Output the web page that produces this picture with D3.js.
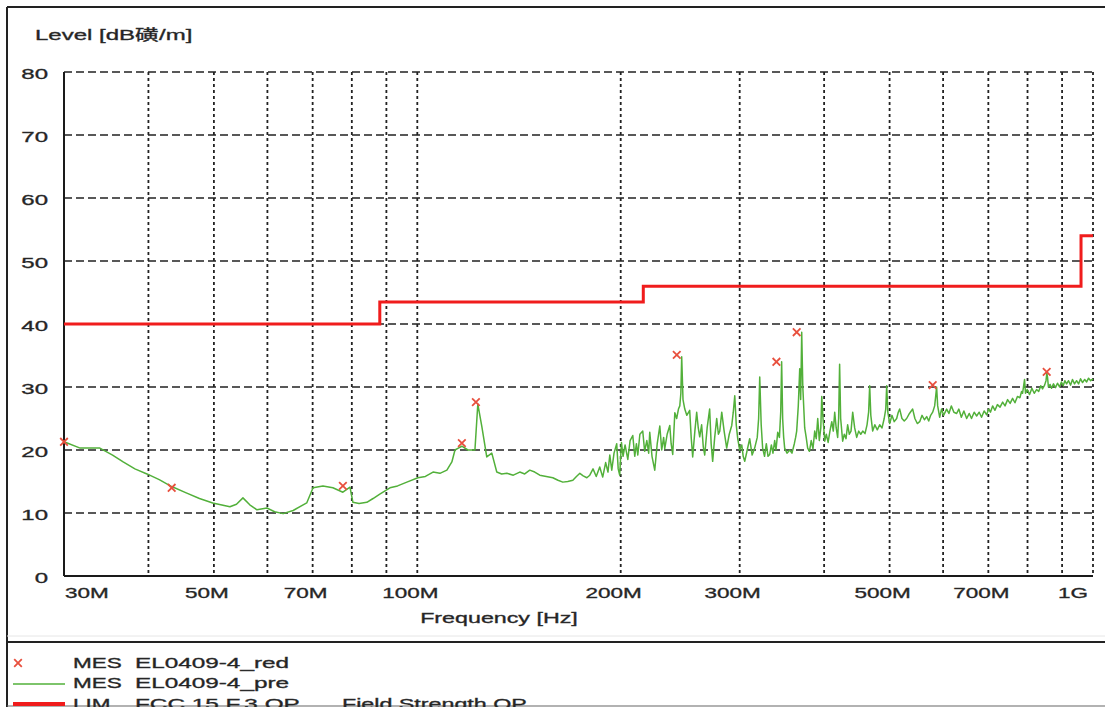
<!DOCTYPE html>
<html><head><meta charset="utf-8">
<script src="https://cdn.jsdelivr.net/npm/d3@7"></script>
<style>html,body{margin:0;padding:0;background:#fff;overflow:hidden}
text{font-family:"Liberation Sans",Arial,"Noto Sans CJK SC",sans-serif;fill:#222;stroke:#333;stroke-width:0.35px}</style>
</head><body>
<svg id="chart" width="1105" height="707"></svg>
<script>
// ---------- data ----------
const yTicks = [0, 10, 20, 30, 40, 50, 60, 70, 80];
const xGridMHz = [40, 50, 60, 70, 80, 90, 100, 200, 300, 400, 500, 600, 700, 800, 900, 1000];
const xTickMHz = [30, 50, 70, 100, 200, 300, 500, 700, 1000];
const xTickLabels = ["30M", "50M", "70M", "100M", "200M", "300M", "500M", "700M", "1G"];

const limitFreqMHz = [30, 88, 88, 216, 216, 960, 960, 1000];
const limitLevel   = [40, 40, 43.5, 43.5, 46, 46, 54, 54];

const peakFreqMHz = [30.0, 43.3, 77.6, 116.4, 122.1, 242.1, 340.0, 364.3, 579.1, 854.0];
const peakLevel   = [21.3, 14.0, 14.3, 21.1, 27.6, 35.1, 34.0, 38.7, 30.3, 32.4];

const traceFreqMHz = [
 30.0,31.7,33.9,35.4,36.7,38.2,39.8,41.5,43.3,45.5,47.6,49.8,52.8,54.0,55.2,56.5,57.9,59.9,61.5,63.3,65.5,68.6,70.1,72.5,75.0,77.6,79.5,80.3,82.0,84.2,
 86.0,88.0,91.1,93.5,96.5,100.2,102.8,105.5,108.0,110.6,112.5,113.7,115.0,116.4,118.8,121.7,122.9,124.6,126.7,128.9,131.1,133.3,135.7,138.7,141.8,144.2,146.7,149.2,151.8,155.2,
 158.7,161.5,164.2,167.0,169.9,172.0,174.0,176.0,178.2,180.0,182.0,184.0,186.2,188.1,190.0,191.5,192.7,194.0,195.5,197.3,198.3,199.3,200.5,201.6,203.0,204.9,206.5,208.4,209.8,211.0,
 212.0,213.5,215.6,217.0,218.6,220.0,220.8,222.5,224.6,226.5,228.5,230.0,231.5,232.4,234.3,236.4,237.5,238.8,240.5,242.0,243.5,244.6,245.5,246.2,247.3,248.8,250.5,253.0,254.3,255.6,
 257.5,259.1,260.5,261.8,263.5,265.0,266.3,268.5,270.8,272.2,273.6,275.5,277.4,279.0,280.3,282.2,284.5,287.0,289.5,292.0,293.5,295.0,296.5,298.0,300.0,302.1,303.6,305.2,307.8,310.4,
 313.0,315.7,318.5,320.0,321.2,322.8,324.4,326.5,328.5,330.4,332.3,334.2,336.0,338.0,339.5,341.5,343.5,345.0,346.1,347.3,348.5,349.7,352.5,355.8,358.5,361.4,363.0,364.3,366.3,368.1,
 369.3,370.6,372.0,374.4,376.3,378.2,380.5,382.8,385.1,387.4,389.4,391.4,393.5,395.5,396.8,398.5,400.9,403.0,405.5,408.0,410.6,412.7,414.7,416.8,418.9,420.3,421.7,423.2,426.1,428.5,
 431.0,433.4,435.9,438.4,440.9,443.9,447.0,450.0,453.2,456.3,459.8,463.0,465.5,467.2,469.0,472.0,475.5,479.5,483.4,487.3,490.9,493.5,495.1,497.0,500.2,504.0,508.0,512.2,515.0,517.5,
 521.5,525.6,529.9,535.0,540.9,545.0,549.5,554.0,558.5,563.0,567.4,571.3,575.1,579.1,583.0,585.0,586.9,589.0,593.0,597.0,601.0,607.3,612.0,617.0,622.5,628.3,633.0,638.5,644.0,650.2,
 656.0,661.0,667.0,672.7,678.5,684.0,690.0,696.0,701.0,705.0,710.3,716.0,722.0,728.5,735.0,741.0,747.5,754.0,760.3,766.5,773.0,779.5,784.0,786.6,789.0,792.0,794.5,799.0,805.6,812.0,
 818.5,825.0,831.0,837.0,842.0,848.0,852.0,854.5,856.6,859.0,864.0,868.3,874.0,880.0,886.0,892.3,898.0,903.5,908.5,913.9,920.0,926.5,932.5,939.0,945.6,952.0,958.5,965.0,972.0,978.6,
 985.0,992.0,1000];
const traceLevel = [
 21.3,20.3,20.3,19.2,18.1,17.0,16.2,15.3,14.2,13.2,12.3,11.6,11.0,11.4,12.4,11.3,10.5,10.8,10.2,9.9,10.4,11.6,14.0,14.3,14.0,13.3,14.1,11.7,11.5,11.7,
 12.3,13.0,14.0,14.3,14.9,15.6,15.8,16.5,16.3,16.8,18.1,20.0,20.3,20.6,20.0,20.0,27.3,23.7,18.9,19.5,16.5,16.2,16.3,16.0,16.5,16.2,16.8,16.5,16.0,15.8,
 15.6,15.2,14.9,15.0,15.2,15.8,16.3,15.9,15.6,16.0,17.0,15.8,17.3,15.7,18.0,16.5,19.2,16.8,19.5,21.0,17.0,16.0,21.2,19.0,20.8,18.5,21.5,22.3,19.0,21.0,
 19.2,22.5,23.0,19.8,21.5,19.5,22.8,19.0,16.8,21.0,23.8,20.0,22.0,20.2,22.5,23.9,21.0,19.3,25.9,25.0,26.5,27.0,29.0,34.8,28.0,26.5,25.5,26.3,22.0,18.9,
 23.0,26.0,23.5,22.1,24.0,20.5,19.2,23.5,26.5,21.0,18.2,22.0,25.0,22.5,23.0,26.0,23.0,20.3,22.5,23.9,26.0,28.6,24.0,21.8,20.0,20.8,19.0,18.2,20.0,21.8,
 19.2,20.3,22.0,25.0,31.6,24.0,20.3,19.0,21.0,19.0,19.3,20.8,19.5,21.5,20.0,22.8,22.0,26.0,34.0,25.0,22.0,20.3,19.5,20.0,19.5,21.0,22.0,23.0,27.0,32.9,
 28.0,38.7,30.0,23.5,22.0,20.3,19.8,21.5,20.2,23.0,21.8,25.0,21.5,23.5,28.5,25.0,21.4,22.5,21.2,23.0,24.5,23.0,26.0,23.5,22.0,25.0,33.6,25.0,21.4,22.5,
 21.8,24.0,22.5,23.0,26.0,23.5,22.0,23.0,22.5,23.0,22.6,24.0,26.0,30.2,25.5,23.0,24.0,23.2,24.0,23.5,25.0,26.5,30.2,26.0,24.2,25.5,24.5,25.0,26.0,26.5,
 25.0,24.6,25.0,25.8,26.5,25.0,24.2,24.5,25.5,24.8,25.3,24.6,25.5,26.0,27.0,28.5,30.0,27.0,25.2,26.5,25.5,26.5,25.8,27.0,26.0,25.8,26.5,25.2,26.2,25.0,
 25.8,25.0,26.0,25.4,26.0,25.2,26.2,25.6,26.5,26.0,27.0,26.3,27.2,26.8,27.6,27.0,28.0,27.4,28.2,27.5,28.5,28.3,29.3,29.0,30.0,31.2,29.0,29.6,28.8,29.8,
 29.0,29.6,29.3,30.2,29.7,30.3,31.0,32.2,31.5,30.0,30.4,29.8,30.5,29.9,30.6,30.0,30.8,30.2,31.0,30.5,31.0,30.3,31.2,30.5,31.0,30.5,31.3,30.7,31.2,30.8,
 31.4,31.0,31.3];

const legendNames = ["MES", "MES", "LIM"];
const legendSeries = ["EL0409-4_red", "EL0409-4_pre", "FCC 15.F.3 QP"];
const yTitle = "Level [dB磺/m]";
const xTitle = "Frequency [Hz]";

// ---------- drawing ----------
const svg = d3.select("#chart");
const x = d3.scaleLog().domain([30, 1000]).range([64, 1093]);
const y = d3.scaleLinear().domain([0, 80]).range([576, 72]);

function stretch(sel, k) {
  sel.each(function () {
    const w = this.getComputedTextLength();
    d3.select(this).attr("textLength", w * k).attr("lengthAdjust", "spacingAndGlyphs");
  });
  return sel;
}

// outer frame
svg.append("line").attr("x1", 7).attr("x2", 7).attr("y1", 7).attr("y2", 707).attr("stroke", "#222").attr("stroke-width", 2);
svg.append("line").attr("x1", 7).attr("x2", 1105).attr("y1", 7).attr("y2", 7).attr("stroke", "#222").attr("stroke-width", 2);
svg.append("line").attr("x1", 7).attr("x2", 1105).attr("y1", 636).attr("y2", 636).attr("stroke", "#e6e6e6").attr("stroke-width", 1);
svg.append("line").attr("x1", 7).attr("x2", 1105).attr("y1", 642).attr("y2", 642).attr("stroke", "#222").attr("stroke-width", 2);
svg.append("line").attr("x1", 7).attr("x2", 1105).attr("y1", 706).attr("y2", 706).attr("stroke", "#666").attr("stroke-width", 1.2);

// grid
const grid = svg.append("g");
grid.selectAll("line.h").data(yTicks.filter(d => d > 0)).join("line")
  .attr("x1", x(30)).attr("x2", x(1000)).attr("y1", d => y(d)).attr("y2", d => y(d))
  .attr("stroke", "#222").attr("stroke-width", 1.4).attr("stroke-dasharray", "8,4");
grid.selectAll("line.v").data(xGridMHz).join("line")
  .attr("x1", d => x(d)).attr("x2", d => x(d)).attr("y1", y(80)).attr("y2", y(0))
  .attr("stroke", "#222").attr("stroke-width", 1.8).attr("stroke-dasharray", "3,3");

// axes lines
svg.append("line").attr("x1", x(30)).attr("x2", x(30)).attr("y1", y(80)).attr("y2", y(0)).attr("stroke", "#1a1a1a").attr("stroke-width", 2);
svg.append("line").attr("x1", x(30)).attr("x2", x(1000)).attr("y1", y(0)).attr("y2", y(0)).attr("stroke", "#1a1a1a").attr("stroke-width", 2);

// y tick labels
stretch(svg.append("g").selectAll("text").data(yTicks).join("text")
  .attr("x", 48).attr("y", d => y(d) + 6.5).attr("text-anchor", "end")
  .attr("font-size", 15).text(d => d), 1.6);

// x tick labels
stretch(svg.append("g").selectAll("text").data(xTickMHz).join("text")
  .attr("x", (d, i) => i === 0 ? x(d) + 1 : (i === xTickMHz.length - 1 ? x(d) - 5 : x(d) - 7))
  .attr("y", 598)
  .attr("text-anchor", (d, i) => i === 0 ? "start" : (i === xTickMHz.length - 1 ? "end" : "middle"))
  .attr("font-size", 15).text((d, i) => xTickLabels[i]), 1.5);

// titles
stretch(svg.append("text").attr("x", 35).attr("y", 40).attr("font-size", 15).text(yTitle), 1.6);
stretch(svg.append("text").attr("x", 499).attr("y", 623).attr("text-anchor", "middle").attr("font-size", 15).text(xTitle), 1.55);

// limit line
const limPts = limitFreqMHz.map((f, i) => [f, limitLevel[i]]);
svg.append("path").datum(limPts)
  .attr("d", d3.line().x(d => x(d[0])).y(d => y(d[1])))
  .attr("fill", "none").attr("stroke", "#f01c1c").attr("stroke-width", 3);

// trace
const trPts = traceFreqMHz.map((f, i) => [f, traceLevel[i]]);
svg.append("path").datum(trPts)
  .attr("d", d3.line().x(d => x(d[0])).y(d => y(d[1])))
  .attr("fill", "none").attr("stroke", "#52b03a").attr("stroke-width", 1.5).attr("stroke-linejoin", "round");

// peak markers
const cross = (cx, cy, s) => `M${cx - s},${cy - s}L${cx + s},${cy + s}M${cx - s},${cy + s}L${cx + s},${cy - s}`;
svg.append("g").selectAll("path").data(peakFreqMHz).join("path")
  .attr("d", (d, i) => cross(x(d), y(peakLevel[i]), 3.8))
  .attr("stroke", "#e8503e").attr("stroke-width", 1.8).attr("fill", "none");

// legend
svg.append("path").attr("d", cross(18, 663, 3.8)).attr("stroke", "#e8503e").attr("stroke-width", 1.8);
svg.append("line").attr("x1", 13).attr("x2", 65).attr("y1", 684).attr("y2", 684).attr("stroke", "#52b03a").attr("stroke-width", 1.4);
svg.append("line").attr("x1", 13).attr("x2", 65).attr("y1", 704).attr("y2", 704).attr("stroke", "#f01c1c").attr("stroke-width", 4);
const legY = [668, 688, 709];
const lg = svg.append("g");
stretch(lg.selectAll("text.n").data(legendNames).join("text").attr("class", "n")
  .attr("x", 73).attr("y", (d, i) => legY[i]).attr("font-size", 15).text(d => d), 1.5);
stretch(lg.selectAll("text.s").data(legendSeries).join("text").attr("class", "s")
  .attr("x", 135).attr("y", (d, i) => legY[i]).attr("font-size", 15).text(d => d), 1.62);
stretch(lg.append("text").attr("x", 342).attr("y", 709).attr("font-size", 15).text("Field Strength QP"), 1.55);
</script>
</body></html>
